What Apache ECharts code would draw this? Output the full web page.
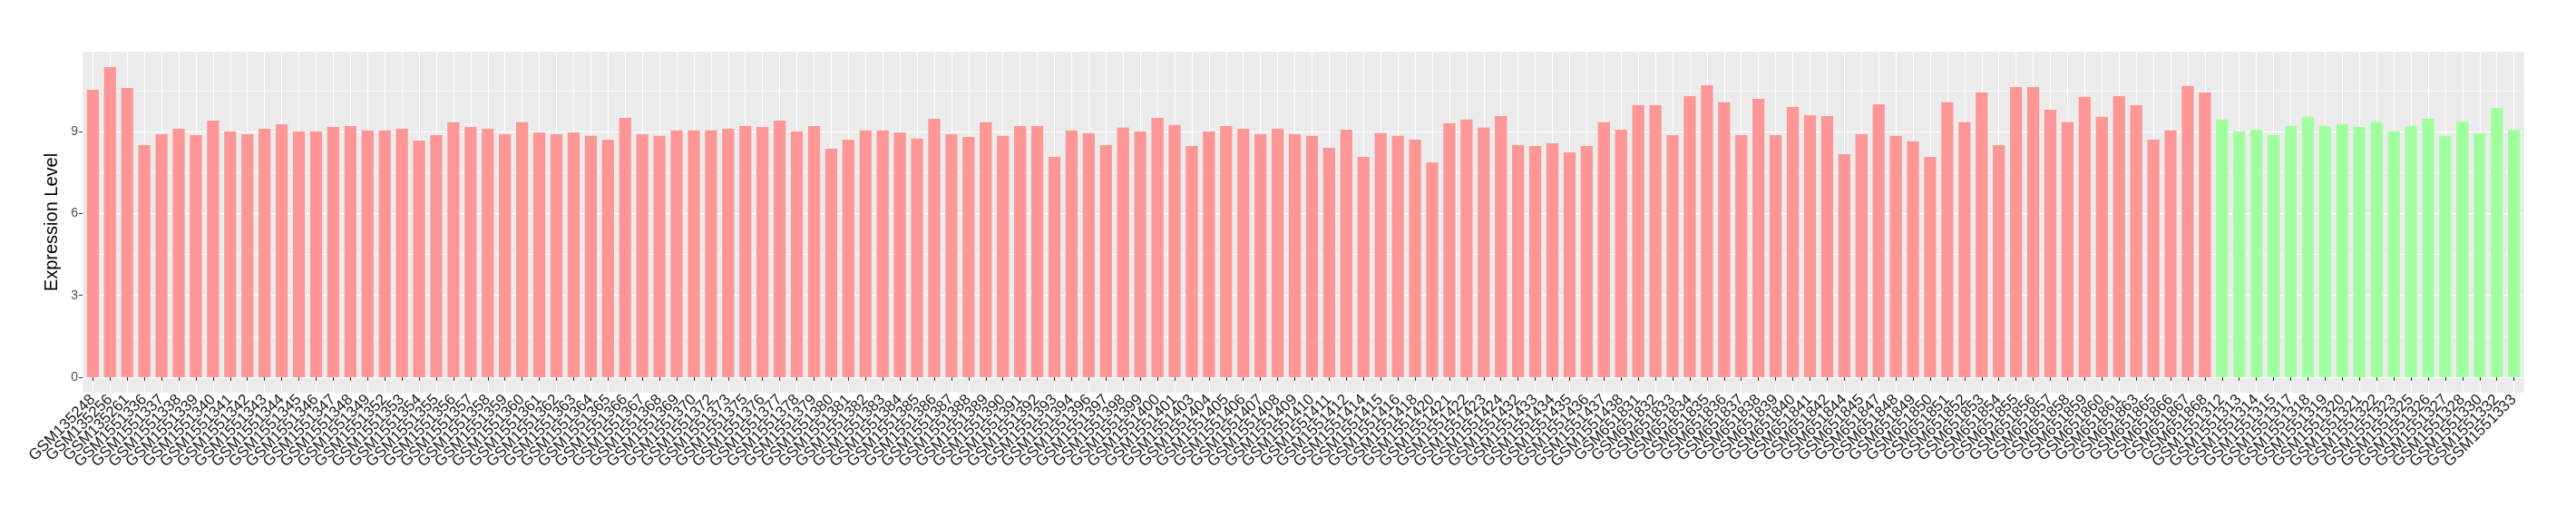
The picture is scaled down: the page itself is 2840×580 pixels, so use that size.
<!DOCTYPE html>
<html>
<head>
<meta charset="utf-8">
<script src="https://cdn.jsdelivr.net/npm/echarts@6/dist/echarts.min.js"></script>
<style>
html,body{margin:0;padding:0;background:#fff;}
#chart{width:2840px;height:580px;}
</style>
</head>
<body>
<div id="chart"></div>
<script>
// Tumour samples (red)
const tumorSamples = ["GSM135248","GSM135256","GSM135261","GSM1551336","GSM1551337","GSM1551338","GSM1551339","GSM1551340","GSM1551341","GSM1551342","GSM1551343","GSM1551344","GSM1551345","GSM1551346","GSM1551347","GSM1551348","GSM1551349","GSM1551352","GSM1551353","GSM1551354","GSM1551355","GSM1551356","GSM1551357","GSM1551358","GSM1551359","GSM1551360","GSM1551361","GSM1551362","GSM1551363","GSM1551364","GSM1551365","GSM1551366","GSM1551367","GSM1551368","GSM1551369","GSM1551370","GSM1551372","GSM1551373","GSM1551375","GSM1551376","GSM1551377","GSM1551378","GSM1551379","GSM1551380","GSM1551381","GSM1551382","GSM1551383","GSM1551384","GSM1551385","GSM1551386","GSM1551387","GSM1551388","GSM1551389","GSM1551390","GSM1551391","GSM1551392","GSM1551393","GSM1551394","GSM1551396","GSM1551397","GSM1551398","GSM1551399","GSM1551400","GSM1551401","GSM1551403","GSM1551404","GSM1551405","GSM1551406","GSM1551407","GSM1551408","GSM1551409","GSM1551410","GSM1551411","GSM1551412","GSM1551414","GSM1551415","GSM1551416","GSM1551418","GSM1551420","GSM1551421","GSM1551422","GSM1551423","GSM1551424","GSM1551432","GSM1551433","GSM1551434","GSM1551435","GSM1551436","GSM1551437","GSM1551438","GSM651831","GSM651832","GSM651833","GSM651834","GSM651835","GSM651836","GSM651837","GSM651838","GSM651839","GSM651840","GSM651841","GSM651842","GSM651844","GSM651845","GSM651847","GSM651848","GSM651849","GSM651850","GSM651851","GSM651852","GSM651853","GSM651854","GSM651855","GSM651856","GSM651857","GSM651858","GSM651859","GSM651860","GSM651861","GSM651863","GSM651865","GSM651866","GSM651867","GSM651868"];
const tumorValues = [10.54,11.37,10.61,8.51,8.91,9.11,8.88,9.41,9.01,8.91,9.11,9.28,9.01,9.01,
9.18,9.21,9.05,9.05,9.11,8.68,8.88,9.35,9.18,9.11,8.91,9.35,8.98,8.91,8.98,
8.85,8.71,9.51,8.91,8.85,9.05,9.05,9.05,9.11,9.21,9.18,9.41,9.01,9.21,8.38,
8.71,9.05,9.05,8.98,8.75,9.48,8.91,8.81,9.35,8.85,9.21,9.21,8.08,9.05,8.95,
8.51,9.15,9.01,9.51,9.25,8.48,9.01,9.21,9.11,8.91,9.11,8.91,8.85,8.41,
9.08,8.08,8.95,8.85,8.71,7.88,9.31,9.45,9.15,9.58,8.51,8.48,8.58,8.25,8.48,
9.35,9.08,9.98,9.98,8.88,10.31,10.71,10.08,8.88,10.21,8.88,9.91,9.61,9.58,8.18,
8.91,10.01,8.85,8.65,8.08,10.08,9.35,10.44,8.51,10.64,10.64,9.81,9.35,10.28,9.55,
10.31,9.98,8.71,9.05,10.68,10.44];
// Normal samples (green)
const normalSamples = ["GSM1551312","GSM1551313","GSM1551314","GSM1551315","GSM1551317","GSM1551318","GSM1551319","GSM1551320","GSM1551321","GSM1551322","GSM1551323","GSM1551325","GSM1551326","GSM1551327","GSM1551328","GSM1551330","GSM1551332","GSM1551333"];
const normalValues = [9.45,9.01,9.08,8.88,9.21,9.55,9.21,9.28,9.18,9.35,9.01,9.21,9.48,8.85,9.38,8.95,9.88,9.08];
const yTicks = [0,3,6,9];

const categories = tumorSamples.concat(normalSamples);
const values = tumorValues.concat(normalValues);
const nTumor = tumorSamples.length;

const FONT = "'Liberation Sans', Arial, Helvetica, sans-serif";
const panelL = 91, panelR = 2783, panelT = 57, panelB = 433;
const n = categories.length;
const step = (panelR - panelL) / (n + 0.2);
const gridL = panelL + 0.1 * step;
const gridR = panelR - 0.1 * step;

const chart = echarts.init(document.getElementById('chart'), null, {renderer: 'canvas'});
chart.setOption({
  animation: false,
  backgroundColor: '#ffffff',
  graphic: [
    {type: 'rect', silent: true, shape: {x: panelL, y: panelT, width: gridL - panelL + 0.3, height: panelB - panelT}, style: {fill: '#EBEBEB'}},
    {type: 'rect', silent: true, shape: {x: gridR - 0.3, y: panelT, width: panelR - gridR + 0.3, height: panelB - panelT}, style: {fill: '#EBEBEB'}}
  ],
  grid: {show: true, backgroundColor: '#EBEBEB', borderWidth: 0, left: gridL, right: 2840 - gridR, top: panelT, bottom: 580 - panelB, containLabel: false},
  xAxis: {
    type: 'category',
    data: categories,
    boundaryGap: true,
    axisLine: {show: false},
    axisTick: {show: true, alignWithLabel: true, length: 4, lineStyle: {color: '#333333', width: 1}},
    axisLabel: {interval: 0, rotate: 45, margin: 5, fontSize: 17, color: '#1a1a1a', fontFamily: FONT},
    splitLine: {show: true, alignWithLabel: true, interval: 0, lineStyle: {color: '#ffffff', width: 1.1}}
  },
  yAxis: {
    type: 'value',
    min: -0.5685, max: 11.9385,
    minInterval: 3, maxInterval: 3,
    offset: 0.1 * step,
    name: 'Expression Level',
    nameLocation: 'middle',
    nameGap: 15,
    nameTextStyle: {fontSize: 20, color: '#000000', fontFamily: FONT},
    axisLine: {show: false},
    axisTick: {show: true, length: 4, customValues: yTicks, lineStyle: {color: '#333333', width: 1}},
    axisLabel: {margin: 5, fontSize: 14, color: '#4d4d4d', fontFamily: FONT, customValues: yTicks},
    splitLine: {show: true, lineStyle: {color: '#ffffff', width: 1.1}},
    minorTick: {show: false, splitNumber: 2},
    minorSplitLine: {show: true, lineStyle: {color: '#ffffff', width: 0.55}}
  },
  series: [{
    type: 'bar',
    data: values,
    barWidth: '70%',
    z: 3,
    itemStyle: {
      color: function (p) { return p.dataIndex < nTumor ? '#FF9696' : '#A0FF9F'; }
    }
  }]
});
</script>
</body>
</html>
